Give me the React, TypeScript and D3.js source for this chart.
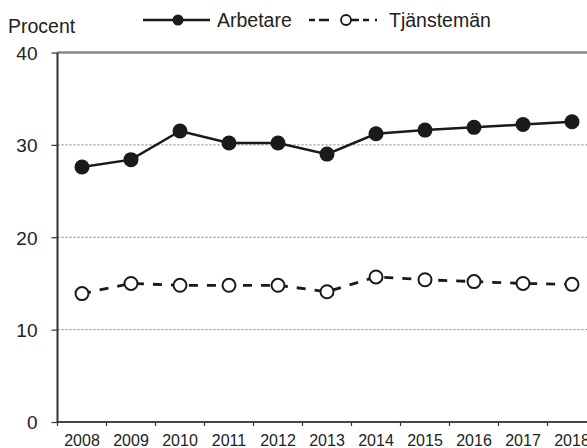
import { useRef, useEffect } from "react";
import * as d3 from "d3";

const years = ["2008", "2009", "2010", "2011", "2012", "2013", "2014", "2015", "2016", "2017", "2018"];
const arbetare = [27.6, 28.4, 31.5, 30.2, 30.2, 29.0, 31.2, 31.6, 31.9, 32.2, 32.5];
const tjansteman = [13.9, 15.0, 14.8, 14.8, 14.8, 14.1, 15.7, 15.4, 15.2, 15.0, 14.9];
const yTicks = [0, 10, 20, 30, 40];

const FONT = "'Liberation Sans', Arial, sans-serif";

export default function App() {
  const svgRef = useRef<SVGSVGElement | null>(null);

  useEffect(() => {
    const width = 587;
    const height = 448;
    const svg = d3.select(svgRef.current);
    svg.selectAll("*").remove();
    svg.attr("width", width).attr("height", height);

    const left = 57.5;
    const bottom = 422;
    const top = 52.5;

    const x = d3
      .scaleBand<string>()
      .domain(years)
      .range([left, left + 49 * years.length])
      .padding(0);
    const y = d3.scaleLinear().domain([0, 40]).range([bottom, top]);

    // gridlines
    svg
      .append("g")
      .selectAll("line")
      .data(yTicks.filter((t) => t > 0 && t < 40))
      .join("line")
      .attr("x1", left)
      .attr("x2", width)
      .attr("y1", (d) => y(d))
      .attr("y2", (d) => y(d))
      .attr("stroke", "#777")
      .attr("stroke-width", 1)
      .attr("stroke-dasharray", "2,2");

    // top frame line
    svg
      .append("line")
      .attr("x1", left)
      .attr("x2", width)
      .attr("y1", y(40))
      .attr("y2", y(40))
      .attr("stroke", "#8a8a8a")
      .attr("stroke-width", 2.5);

    // y axis
    const yAxis = svg
      .append("g")
      .attr("transform", `translate(${left},0)`)
      .call(d3.axisLeft(y).tickValues(yTicks).tickSize(6).tickPadding(14));
    yAxis.select(".domain").attr("stroke", "#333").attr("stroke-width", 2).attr("d", `M0,${top}V${bottom}`);
    yAxis.selectAll(".tick line").attr("stroke", "#333").attr("stroke-width", 1.2);
    yAxis
      .selectAll(".tick text")
      .attr("font-family", FONT)
      .attr("font-size", 19)
      .attr("fill", "#222")
      .attr("dy", "0.36em");

    // x axis
    const xAxis = svg
      .append("g")
      .attr("transform", `translate(0,${bottom})`)
      .call(d3.axisBottom(x).tickSize(0).tickPadding(0));
    xAxis.select(".domain").attr("stroke", "#444").attr("stroke-width", 2).attr("d", `M${left},0H${width}`);
    xAxis
      .selectAll(".tick text")
      .attr("font-family", FONT)
      .attr("font-size", 16)
      .attr("fill", "#222")
      .attr("dy", 0)
      .attr("y", 24);
    xAxis
      .append("g")
      .selectAll("line")
      .data(years)
      .join("line")
      .attr("x1", (d) => x(d)!)
      .attr("x2", (d) => x(d)!)
      .attr("y1", 0)
      .attr("y2", 4)
      .attr("stroke", "#333")
      .attr("stroke-width", 1.2);

    const cx = (i: number) => x(years[i])! + x.bandwidth() / 2;
    const line = d3
      .line<number>()
      .x((_, i) => cx(i))
      .y((d) => y(d));

    // Tjänstemän
    svg
      .append("path")
      .datum(tjansteman)
      .attr("fill", "none")
      .attr("stroke", "#1a1a1a")
      .attr("stroke-width", 2.8)
      .attr("stroke-dasharray", "9,9")
      .attr("d", line);
    svg
      .append("g")
      .selectAll("circle")
      .data(tjansteman)
      .join("circle")
      .attr("cx", (_, i) => cx(i))
      .attr("cy", (d) => y(d))
      .attr("r", 6.5)
      .attr("fill", "#fff")
      .attr("stroke", "#1a1a1a")
      .attr("stroke-width", 2);

    // Arbetare
    svg
      .append("path")
      .datum(arbetare)
      .attr("fill", "none")
      .attr("stroke", "#1a1a1a")
      .attr("stroke-width", 2.5)
      .attr("d", line);
    svg
      .append("g")
      .selectAll("circle")
      .data(arbetare)
      .join("circle")
      .attr("cx", (_, i) => cx(i))
      .attr("cy", (d) => y(d))
      .attr("r", 7.5)
      .attr("fill", "#1a1a1a");

    // y title
    svg
      .append("text")
      .attr("x", 8)
      .attr("y", 33)
      .attr("font-family", FONT)
      .attr("font-size", 19.5)
      .attr("fill", "#222")
      .text("Procent");

    // legend
    const lg = svg.append("g");
    lg.append("line")
      .attr("x1", 143)
      .attr("x2", 210)
      .attr("y1", 20)
      .attr("y2", 20)
      .attr("stroke", "#1a1a1a")
      .attr("stroke-width", 2.5);
    lg.append("circle").attr("cx", 178).attr("cy", 20).attr("r", 5.5).attr("fill", "#1a1a1a");
    lg.append("text")
      .attr("x", 217)
      .attr("y", 27)
      .attr("font-family", FONT)
      .attr("font-size", 19.5)
      .attr("fill", "#222")
      .text("Arbetare");

    lg.append("line")
      .attr("x1", 309)
      .attr("x2", 377)
      .attr("y1", 20)
      .attr("y2", 20)
      .attr("stroke", "#1a1a1a")
      .attr("stroke-width", 2.5)
      .attr("stroke-dasharray", "6,4,10,20,10,4,6");
    lg.append("circle")
      .attr("cx", 346)
      .attr("cy", 20)
      .attr("r", 5)
      .attr("fill", "#fff")
      .attr("stroke", "#1a1a1a")
      .attr("stroke-width", 1.8);
    lg.append("text")
      .attr("x", 389)
      .attr("y", 27)
      .attr("font-family", FONT)
      .attr("font-size", 19.5)
      .attr("fill", "#222")
      .text("Tjänstemän");
  }, []);

  return (
    <div style={{ position: "absolute", top: 0, left: 0, width: 587, height: 448, background: "#fff" }}>
      <svg ref={svgRef} style={{ display: "block" }} />
    </div>
  );
}
